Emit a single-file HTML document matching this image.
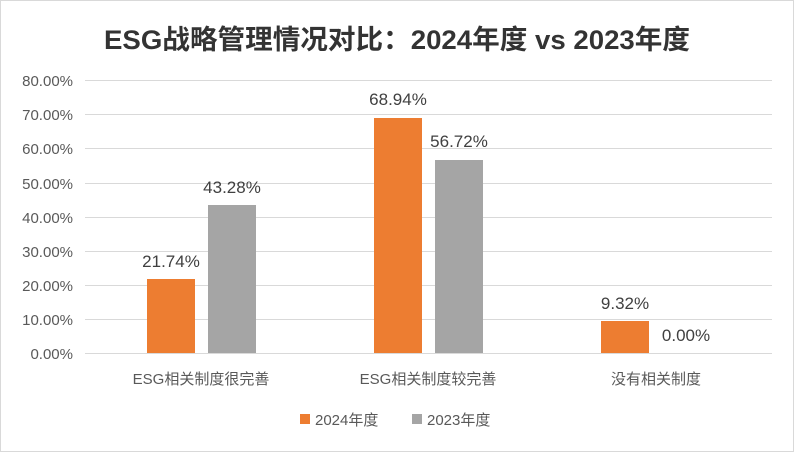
<!DOCTYPE html>
<html><head><meta charset="utf-8"><style>
body{margin:0;background:#fff}
svg text{font-family:"Liberation Sans","Noto Sans CJK SC",sans-serif}
</style></head><body>
<svg width="794" height="452" xmlns="http://www.w3.org/2000/svg">
<rect x="0.5" y="0.5" width="793" height="451" fill="#fff" stroke="#d9d9d9"/>
<text x="397" y="49" text-anchor="middle" font-size="27" font-weight="bold" fill="#333" textLength="586" lengthAdjust="spacingAndGlyphs">ESG战略管理情况对比：2024年度 vs 2023年度</text>
<g stroke="#d9d9d9" stroke-width="1">
<line x1="85" x2="772" y1="80.5" y2="80.5"/><line x1="85" x2="772" y1="114.5" y2="114.5"/>
<line x1="85" x2="772" y1="148.5" y2="148.5"/><line x1="85" x2="772" y1="183.5" y2="183.5"/>
<line x1="85" x2="772" y1="217.5" y2="217.5"/><line x1="85" x2="772" y1="251.5" y2="251.5"/>
<line x1="85" x2="772" y1="285.5" y2="285.5"/><line x1="85" x2="772" y1="319.5" y2="319.5"/>
<line x1="85" x2="772" y1="353.5" y2="353.5"/>
</g>
<g font-size="15" fill="#595959" text-anchor="end">
<text x="73" y="86">80.00%</text><text x="73" y="120">70.00%</text><text x="73" y="154">60.00%</text>
<text x="73" y="189">50.00%</text><text x="73" y="223">40.00%</text><text x="73" y="257">30.00%</text>
<text x="73" y="291">20.00%</text><text x="73" y="325">10.00%</text><text x="73" y="359">0.00%</text>
</g>
<g fill="#ED7D31">
<rect x="147" y="279" width="48" height="74"/>
<rect x="374" y="118" width="48" height="235"/>
<rect x="601" y="321" width="48" height="32"/>
</g>
<g fill="#A5A5A5">
<rect x="208" y="205" width="48" height="148"/>
<rect x="435" y="160" width="48" height="193"/>
</g>
<g font-size="17" fill="#404040" text-anchor="middle">
<text x="171" y="267">21.74%</text><text x="232" y="193">43.28%</text>
<text x="398" y="105">68.94%</text><text x="459" y="147">56.72%</text>
<text x="625" y="309">9.32%</text><text x="686" y="341">0.00%</text>
</g>
<g font-size="15" fill="#595959" text-anchor="middle">
<text x="201" y="384">ESG相关制度很完善</text>
<text x="428" y="384">ESG相关制度较完善</text>
<text x="656" y="384">没有相关制度</text>
</g>
<rect x="300" y="414" width="10" height="10" fill="#ED7D31"/>
<text x="315" y="425" font-size="15" fill="#595959">2024年度</text>
<rect x="412" y="414" width="10" height="10" fill="#A5A5A5"/>
<text x="427" y="425" font-size="15" fill="#595959">2023年度</text>
</svg>
</body></html>
